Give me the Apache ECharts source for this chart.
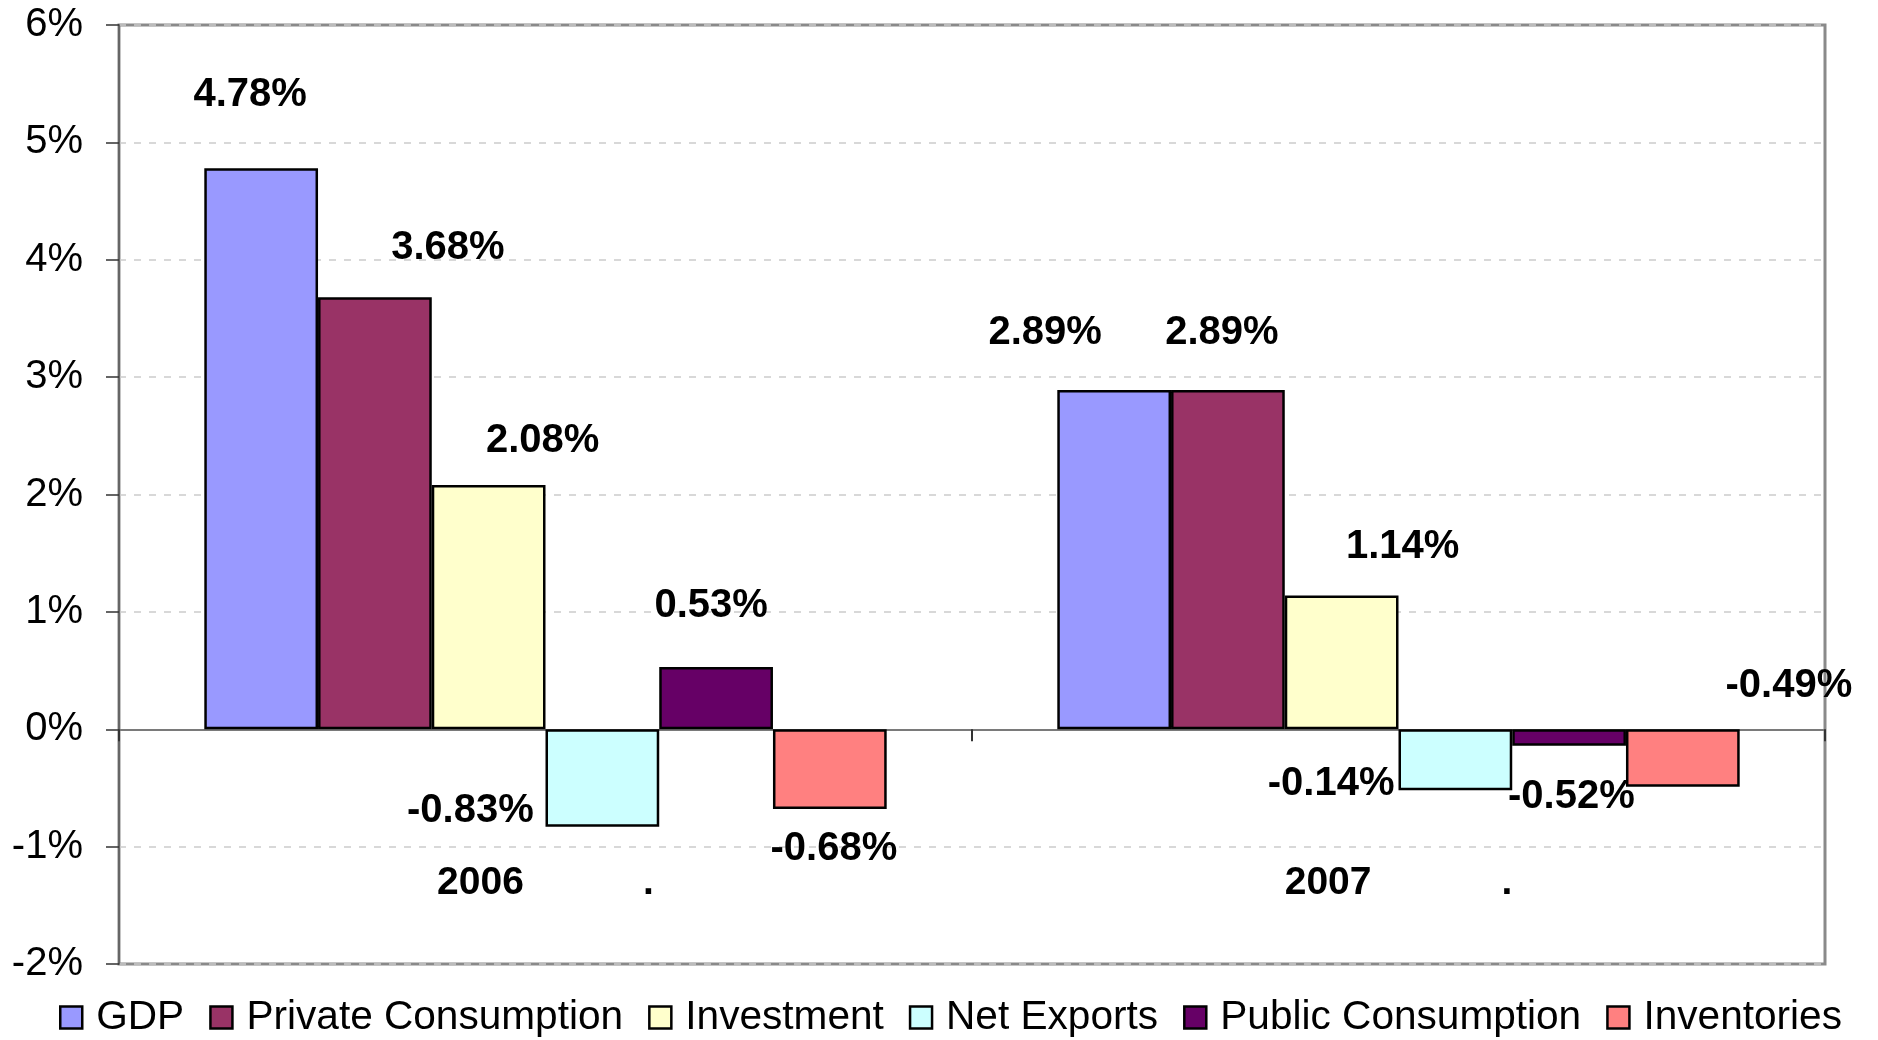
<!DOCTYPE html>
<html>
<head>
<meta charset="utf-8">
<title>GDP growth components</title>
<script src="https://cdn.jsdelivr.net/npm/echarts@6/dist/echarts.min.js"></script>
<style>
  html, body { margin: 0; padding: 0; background: #fff; }
  #chart { width: 1878px; height: 1040px; }
</style>
</head>
<body>
<div id="chart"></div>
<script>
// categories (the trailing dot is part of the original axis label)
var years = ['2006           .', '2007            .'];

// contributions to growth, %
var gdp = [4.78, 2.89];
var privateConsumption = [3.68, 2.89];
var investment = [2.08, 1.14];
var netExports = [-0.83, -0.52];
var publicConsumption = [0.53, -0.14];
var inventories = [-0.68, -0.49];

var yTicks = { min: -2, max: 6, step: 1 };

var seriesNames = ['GDP', 'Private Consumption', 'Investment', 'Net Exports', 'Public Consumption', 'Inventories'];
var seriesValues = [gdp, privateConsumption, investment, netExports, publicConsumption, inventories];
var colors = ['#9999ff', '#993366', '#ffffcc', '#ccffff', '#660066', '#ff8080'];

// where Excel put each data label, relative to the bar centre (px)
var labelShift = [
  [[-11, -354], [-69, -227]],
  [[73, -265], [-6, -227]],
  [[54, -166], [61, -115]],
  [[-132, 33], [116, 37]],
  [[-5, -92], [-238, 47]],
  [[4, 80], [106, -72]]
];

var font = '"Liberation Sans", Arial, sans-serif';
var chart = echarts.init(document.getElementById('chart'));

var series = seriesNames.map(function (name, i) {
  return {
    name: name,
    type: 'bar',
    xAxisIndex: 0,
    barGap: '0%',
    barCategoryGap: '20%',
    itemStyle: { color: colors[i], borderColor: '#000', borderWidth: 2.5 },
    data: seriesValues[i].map(function (v, j) {
      return {
        value: v,
        label: {
          show: true,
          position: 'inside',
          offset: labelShift[i][j],
          formatter: function (p) { return p.value.toFixed(2) + '%'; },
          color: '#000',
          fontFamily: font,
          fontWeight: 'bold',
          fontSize: 40
        }
      };
    })
  };
});

var options = {
  animation: false,
  backgroundColor: '#fff',
  grid: {
    left: 119,
    right: 53,
    top: 25,
    bottom: 76,
    outerBoundsMode: 'none',
    containLabel: false,
    show: true,
    borderColor: '#8a8a8a',
    borderWidth: 3
  },
  legend: {
    data: seriesNames,
    bottom: -3,
    left: 54,
    itemWidth: 22,
    itemHeight: 22,
    itemGap: 25,
    icon: 'rect',
    itemStyle: { borderColor: '#000', borderWidth: 2.5 },
    textStyle: { fontFamily: font, fontSize: 40.6, color: '#000', padding: [0, 0, 0, 9] }
  },
  xAxis: [
    {
      // zero line with the category ticks
      type: 'category',
      data: years,
      axisLine: { onZero: true, lineStyle: { color: '#7a7a7a', width: 2 } },
      axisTick: { show: true, length: 12, lineStyle: { color: '#333', width: 2 } },
      axisLabel: { show: false }
    },
    {
      // year labels sit low, between -1% and -2%
      type: 'category',
      data: years,
      position: 'bottom',
      offset: -100,
      axisLine: { show: false, onZero: false },
      axisTick: { show: false },
      splitLine: { show: false },
      axisLabel: {
        margin: 0,
        fontFamily: font,
        fontWeight: 'bold',
        fontSize: 39,
        color: '#000'
      }
    }
  ],
  yAxis: {
    type: 'value',
    min: yTicks.min,
    max: yTicks.max,
    interval: yTicks.step,
    axisLine: { show: true, lineStyle: { color: '#666', width: 2 } },
    axisTick: { show: true, length: 13, lineStyle: { color: '#333', width: 1.5 } },
    axisLabel: {
      margin: 36,
      formatter: '{value}%',
      fontFamily: font,
      fontSize: 40,
      color: '#000'
    },
    splitLine: { lineStyle: { color: '#cccccc', width: 1.5, type: [7, 8] } }
  },
  series: series
};

chart.setOption(options);
</script>
</body>
</html>
